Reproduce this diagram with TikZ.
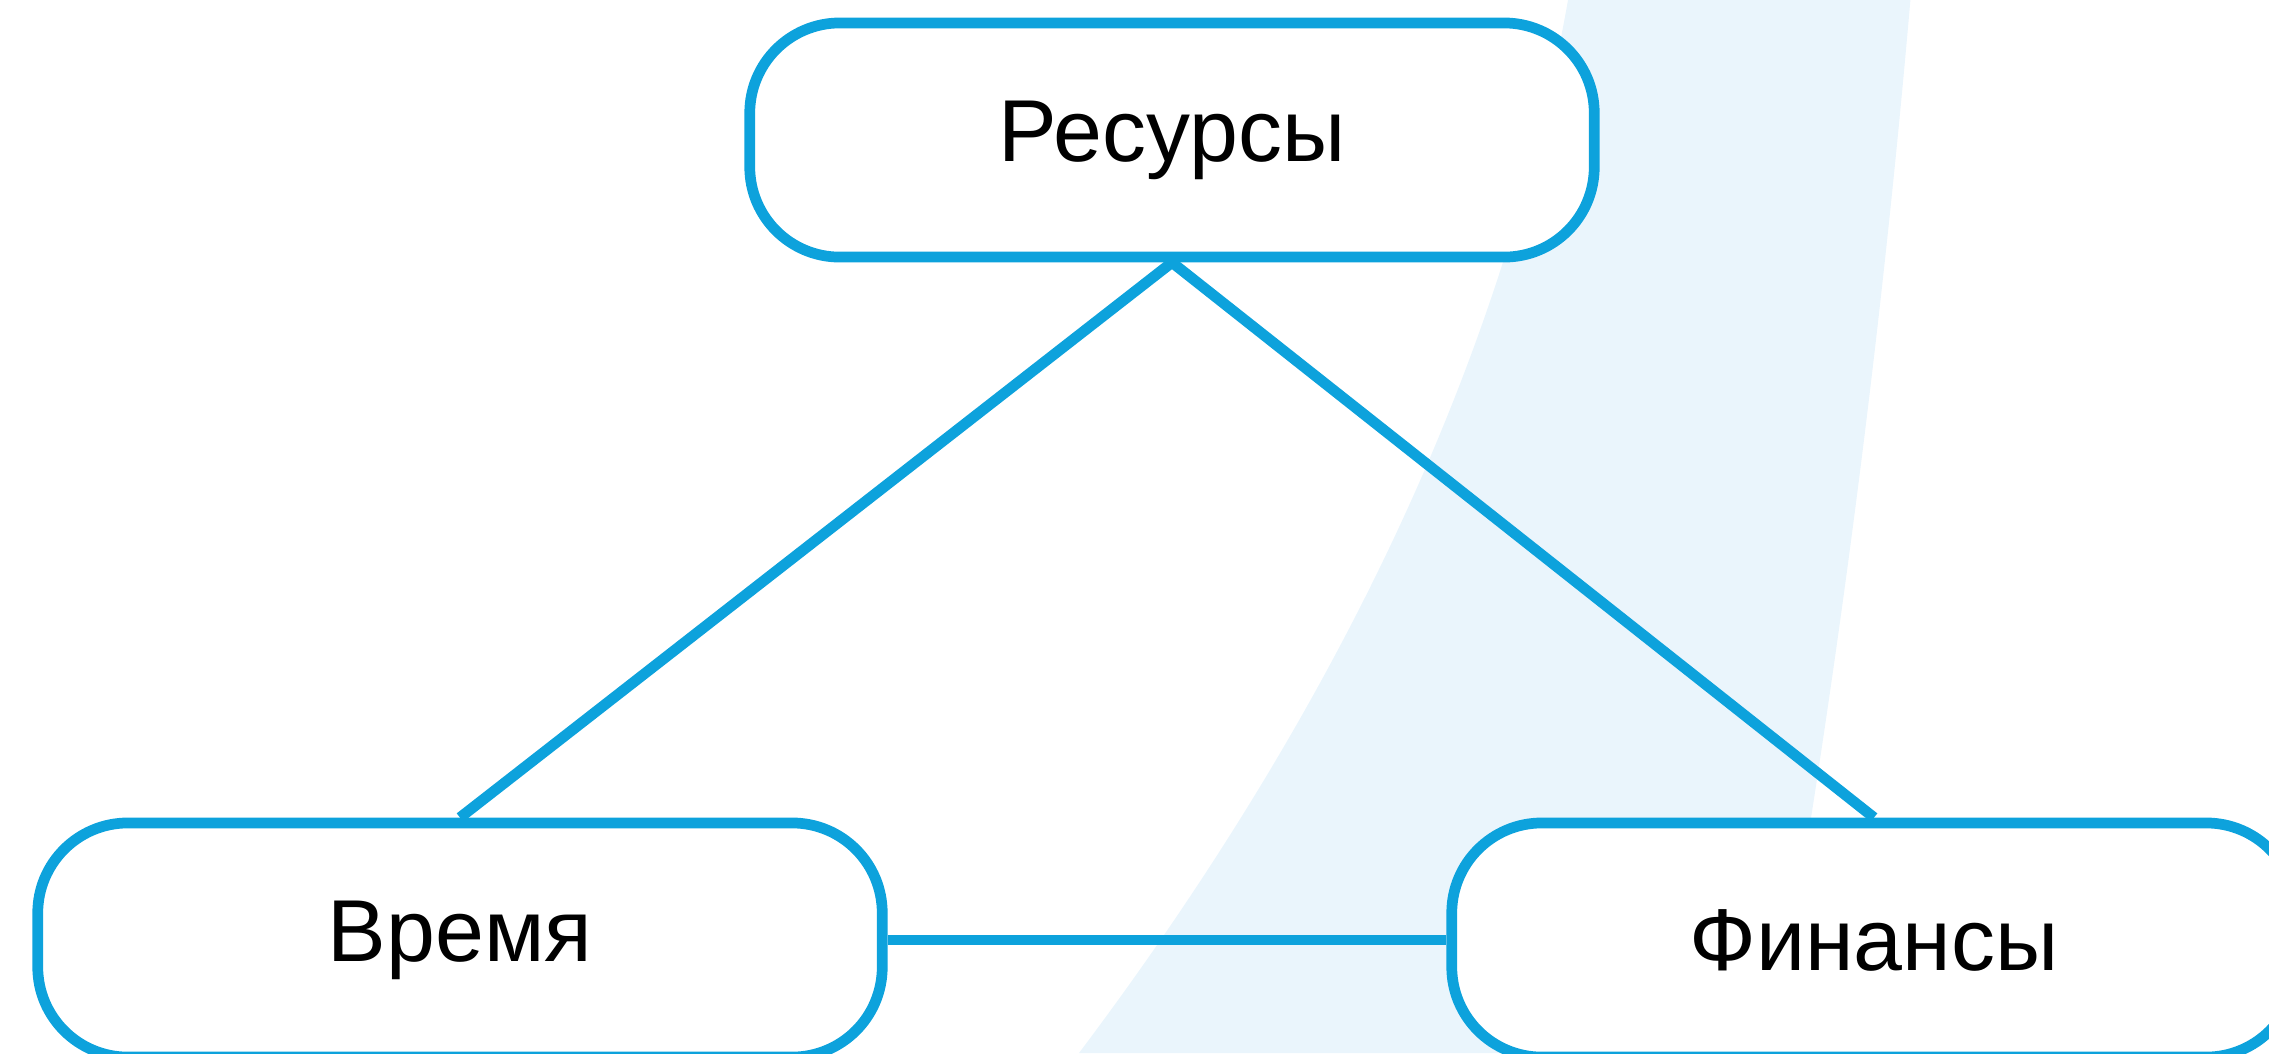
\documentclass[tikz,border=0pt]{standalone}
\usepackage{fontspec}
\setmainfont{Liberation Sans}
\definecolor{lineblue}{HTML}{0DA2DC}
\definecolor{bandblue}{HTML}{EAF5FC}
\begin{document}
\begin{tikzpicture}[x=0.01cm,y=-0.01cm,
  box/.style={draw=lineblue, line width=3.05pt, fill=white, rounded corners=0.9cm,
    minimum width=8.44cm, minimum height=2.34cm, inner sep=0pt,
    font=\fontsize{25}{30}\selectfont},
  link/.style={draw=lineblue, line width=3.05pt}]
\useasboundingbox (0,0) rectangle (2269,1053);
\clip (0,0) rectangle (2269,1053);
% background band
\fill[bandblue] (1568,0) .. controls (1506.1,351) and (1343.1,702) .. (1079,1053)
  -- (1772,1053) .. controls (1833.7,702) and (1879.9,351) .. (1910.4,0) -- cycle;
% boxes
\node[box] (res) at (1172,140) {Ресурсы};
\node[box] (time) at (460,940) {Время};
\node[box] (fin) at (1874,940) {Финансы};
% connectors
\draw[link] (res.south) -- (time.north);
\draw[link] (res.south) -- (fin.north);
\draw[link] (time.east) -- (fin.west);
\end{tikzpicture}
\end{document}
